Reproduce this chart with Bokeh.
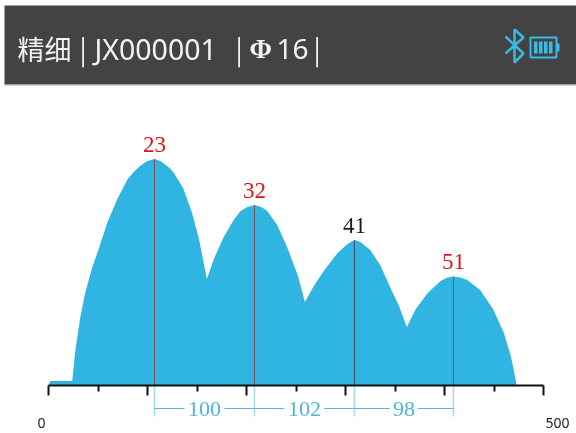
from bokeh.plotting import figure
from bokeh.models import Range1d, FixedTicker
from bokeh.core.properties import value
from bokeh.embed import file_html
from bokeh.resources import INLINE

# ---- data (x axis units 0..500, y = height above baseline) ----
curve_x = [0, 2, 24, 27, 32, 37, 44, 51, 60, 70, 80, 86, 93, 100, 107, 113, 120, 126, 136, 145, 152, 160,
           167, 177, 187, 194, 201, 208, 215, 221, 231, 241, 252, 259,
           268, 278, 292, 302, 309, 315, 325, 335, 345, 354, 362,
           371, 383, 396, 403, 409, 416, 423, 436, 449, 460, 467, 473]
curve_y = [0, 4, 4, 34, 67, 92, 117, 137, 164, 187, 206, 213, 219.5, 224, 226, 224, 219, 213, 197, 172, 146, 106,
           126, 148, 165, 174, 178, 180, 178, 174, 160, 138, 109, 83,
           99, 114, 132, 141, 145, 143, 135, 120, 98, 79, 58,
           76, 92, 104, 107.5, 108.5, 107.5, 105, 95, 76, 52, 29, 0]
peak_x = [107, 208, 309, 409]
peak_h = [226, 180, 145, 108.5]
peak_labels = ["23", "32", "41", "51"]
peak_colors = ["#d8141c", "#d8141c", "#1c1c1c", "#d8141c"]
line_colors = ["#8a4a58", "#8a4a58", "#44495c", "#8a4a58"]
gap_labels = ["100", "102", "98"]
major_ticks = [0, 100, 200, 300, 400, 500]
minor_ticks = [50, 150, 250, 350, 450]
end_labels = ["0", "500"]

BLUE = "#30b5e2"
DIM = "#55b8d8"
BASE = 384.5
SX = 0.99
def X(px): return (px - 48) / SX
def Y(py): return BASE - py

p = figure(width=576, height=433, output_backend="svg", toolbar_location=None,
           x_range=Range1d(X(0), X(576)), y_range=Range1d(Y(433), Y(0)),
           min_border=0, outline_line_color=None,
           styles={"position": "fixed", "left": "0px", "top": "0px"})
p.grid.visible = False
p.yaxis.visible = False

ax = p.xaxis[0]
ax.fixed_location = 0
ax.bounds = (0, 500)
ax.ticker = FixedTicker(ticks=major_ticks, minor_ticks=minor_ticks)
ax.major_label_overrides = {t: "" for t in major_ticks}
ax.axis_line_color = "#111111"
ax.axis_line_width = 2
ax.major_tick_line_color = "#111111"
ax.major_tick_line_width = 2
ax.minor_tick_line_color = "#111111"
ax.minor_tick_line_width = 2
ax.major_tick_in = 0
ax.major_tick_out = 10
ax.minor_tick_in = 0
ax.minor_tick_out = 6

# header band
p.quad(left=[X(4)], right=[X(576)], bottom=[Y(84)], top=[Y(5)], color="#434343", line_color=None)
p.quad(left=[X(4)], right=[X(576)], bottom=[Y(85)], top=[Y(84)], color="#a8a8a8", line_color=None)

def htext(px, py, s, size, font="Noto Sans CJK SC", style="normal", color="#f2f2f2"):
    p.text([X(px)], [Y(py)], text=[s], text_font=value(font), text_font_size=size,
           text_font_style=style, text_color=color, text_baseline="middle", text_align="left")

htext(17, 48, "精细", "27px")
htext(79, 48, "|", "27px")
htext(94, 48, "JX000001", "28.5px", "Noto Sans")
htext(235, 48, "|", "27px")
htext(249, 48, "Φ", "27px", "Liberation Serif", "bold")
htext(276, 48, "16", "28px", "Noto Sans")
htext(313, 48, "|", "27px")

# bluetooth and battery icons
p.line([X(v) for v in [505, 523, 514, 514, 523, 505]],
       [Y(v) for v in [36, 53, 62, 29, 37, 53]], line_color="#38bbe6", line_width=2.5)
p.quad(left=[X(530)], right=[X(556)], top=[Y(37)], bottom=[Y(57)],
       fill_color=None, line_color="#38bbe6", line_width=2)
p.quad(left=[X(556)], right=[X(559)], top=[Y(43)], bottom=[Y(51)], color="#38bbe6", line_color=None)
p.quad(left=[X(v) for v in [533.5, 538.5, 543.5, 548.5]],
       right=[X(v) for v in [537, 542, 547, 552]],
       top=[Y(41)] * 4, bottom=[Y(53)] * 4, color="#38bbe6", line_color=None)

# curve
p.varea(curve_x, y1=[0] * len(curve_x), y2=curve_y, fill_color=BLUE)

# peak lines and labels
p.segment(peak_x, [0] * 4, peak_x, peak_h, line_color=line_colors, line_width=1)
p.text(peak_x, peak_h, text=peak_labels, text_color=peak_colors, text_align="center",
       text_baseline="middle", text_font=value("Liberation Serif"), text_font_size="23px", y_offset=-15)

# dimension brackets
DIM_Y = Y(408)
p.segment(peak_x, [Y(385)] * 4, peak_x, [Y(416)] * 4, line_color="#a5dcec", line_width=1.5)
mid = [(a + b) / 2 for a, b in zip(peak_x[:-1], peak_x[1:])]
half = [X(48 + 20), X(48 + 20), X(48 + 14)]
for a, b, m, h, s in zip(peak_x[:-1], peak_x[1:], mid, half, gap_labels):
    p.segment([a, m + h], [DIM_Y] * 2, [m - h, b], [DIM_Y] * 2, line_color=DIM, line_width=1)
p.text(mid, [DIM_Y] * 3, text=gap_labels, text_color="#4fb6d6", text_align="center",
       text_baseline="middle", text_font=value("Liberation Serif"), text_font_size="22px")

# end labels
p.text([X(41), X(557)], [Y(422)] * 2, text=end_labels, text_color="#222222", text_align="center",
       text_baseline="middle", text_font=value("Noto Sans"), text_font_size="14px")

open("out.html", "w").write(file_html(p, INLINE))
